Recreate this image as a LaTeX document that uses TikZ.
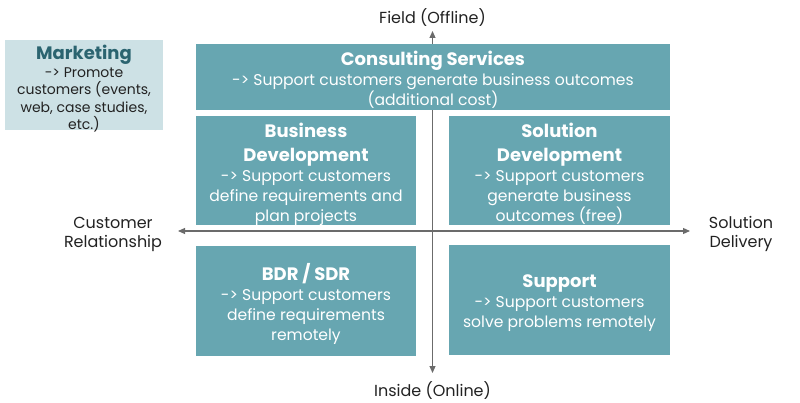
\documentclass[tikz,border=0pt]{standalone}
\usepackage{fontspec}
\setmainfont{Poppins}
\usetikzlibrary{arrows.meta}
\definecolor{boxteal}{HTML}{67A6B1}
\definecolor{mkfill}{HTML}{CDE1E5}
\definecolor{mktitle}{HTML}{2B6470}
\definecolor{axisgray}{HTML}{6B6B6B}
\definecolor{txt}{HTML}{222222}
\newcommand{\tl}[1]{{\fontsize{18}{20}\selectfont\bfseries #1}}
\begin{document}
\begin{tikzpicture}[x=1pt,y=-1pt,
  quad/.style={text=white,align=center,inner sep=0pt,font=\fontsize{15.6}{20}\selectfont},
  axislabel/.style={text=txt,align=center,font=\fontsize{16}{19}\selectfont},
  axisline/.style={draw=axisgray,line width=1.1pt,-{Triangle[length=7pt,width=6pt]}}]
\useasboundingbox (0,0) rectangle (800,403);
% axes
\coordinate (c) at (432.5,231);
\coordinate (top) at (432.5,31);
\coordinate (bot) at (432.5,373);
\coordinate (lft) at (178,231);
\coordinate (rgt) at (690,231);
\draw[axisline] (c) -- (top);
\draw[axisline] (c) -- (bot);
\draw[axisline] (c) -- (lft);
\draw[axisline] (c) -- (rgt);
% boxes
\fill[boxteal] (196,44) rectangle (670,110);
\node[quad] (cs) at (433,80) {\tl{Consulting Services}\\-> Support customers generate business outcomes\\(additional cost)};
\fill[boxteal] (196,116) rectangle (416,225);
\node[quad] (bd) at (306,174) {\tl{Business}\\[4pt]\tl{Development}\\-> Support customers\\define requirements and\\plan projects};
\fill[boxteal] (449,116) rectangle (670,225);
\node[quad] (sd) at (559.5,173.5) {\tl{Solution}\\[4pt]\tl{Development}\\-> Support customers\\generate business\\outcomes (free)};
\fill[boxteal] (196,246) rectangle (416,356);
\node[quad] (bdr) at (306,303.5) {\tl{BDR / SDR}\\-> Support customers\\define requirements\\remotely};
\fill[boxteal] (449,245) rectangle (670,355);
\node[quad] (sup) at (559.5,303) {\tl{Support}\\-> Support customers\\solve problems remotely};
% marketing
\fill[mkfill] (5,40) rectangle (163,130);
\node[align=center,text=txt,font=\fontsize{14}{17.5}\selectfont,inner sep=0pt] (mk) at (84,89) {{\color{mktitle}\tl{Marketing}}\\-> Promote\\customers (events,\\web, case studies,\\etc.)};
% axis labels
\node[axislabel] (fo) at (432.5,18) {Field (Offline)};
\node[axislabel] (io) at (432.5,391) {Inside (Online)};
\node[axislabel] (cr) at (113,234) {Customer\\Relationship};
\node[axislabel] (sdl) at (741,234) {Solution\\Delivery};
\end{tikzpicture}
\end{document}
